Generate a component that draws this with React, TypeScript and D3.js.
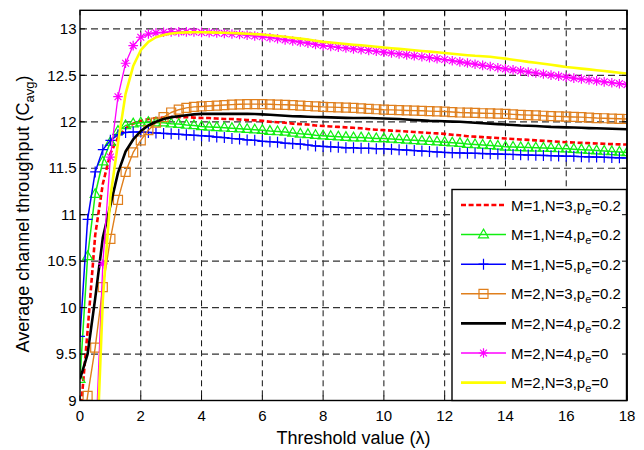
import React from "react";
import * as d3 from "d3";

const lambda = [
  0, 0.25, 0.5, 0.75, 1, 1.25, 1.5, 1.75, 2, 2.25, 2.5, 2.75, 3, 3.25, 3.5, 3.75,
  4, 4.25, 4.5, 4.75, 5, 5.25, 5.5, 5.75, 6, 6.25, 6.5, 6.75, 7, 7.25, 7.5, 7.75,
  8, 8.25, 8.5, 8.75, 9, 9.25, 9.5, 9.75, 10, 10.25, 10.5, 10.75, 11, 11.25, 11.5, 11.75,
  12, 12.25, 12.5, 12.75, 13, 13.25, 13.5, 13.75, 14, 14.25, 14.5, 14.75, 15, 15.25, 15.5, 15.75,
  16, 16.25, 16.5, 16.75, 17, 17.25, 17.5, 17.75, 18,
];

const m1n3 = [
  8.8, 9.75, 10.78, 11.33, 11.66, 11.83, 11.93, 11.98, 12.01, 12.03, 12.04, 12.045, 12.05, 12.05, 12.05, 12.045,
  12.04, 12.04, 12.035, 12.03, 12.03, 12.025, 12.02, 12.015, 12.01, 12.0, 11.995, 11.99, 11.98, 11.975, 11.97, 11.96,
  11.955, 11.95, 11.945, 11.94, 11.935, 11.93, 11.92, 11.915, 11.91, 11.905, 11.9, 11.895, 11.89, 11.885, 11.88, 11.875,
  11.87, 11.86, 11.855, 11.845, 11.84, 11.835, 11.83, 11.825, 11.82, 11.815, 11.81, 11.805, 11.8, 11.795, 11.79, 11.785,
  11.78, 11.777, 11.773, 11.77, 11.766, 11.763, 11.76, 11.757, 11.755,
];

const m1n4 = [
  9.23, 10.55, 11.22, 11.57, 11.78, 11.9, 11.96, 11.98, 11.99, 11.995, 11.99, 11.99, 11.98, 11.975, 11.965, 11.96,
  11.95, 11.945, 11.94, 11.935, 11.93, 11.925, 11.92, 11.915, 11.91, 11.9, 11.895, 11.89, 11.88, 11.87, 11.865, 11.855,
  11.85, 11.845, 11.84, 11.835, 11.83, 11.83, 11.825, 11.82, 11.82, 11.815, 11.81, 11.805, 11.8, 11.795, 11.79, 11.785,
  11.78, 11.775, 11.77, 11.76, 11.755, 11.75, 11.745, 11.74, 11.73, 11.728, 11.725, 11.722, 11.72, 11.718, 11.715, 11.712,
  11.71, 11.705, 11.7, 11.695, 11.69, 11.685, 11.68, 11.675, 11.67,
];

const m1n5 = [
  9.69, 10.95, 11.46, 11.7, 11.8, 11.86, 11.885, 11.89, 11.89, 11.885, 11.88, 11.875, 11.87, 11.865, 11.86, 11.855,
  11.85, 11.845, 11.835, 11.83, 11.82, 11.815, 11.805, 11.8, 11.79, 11.785, 11.78, 11.77, 11.765, 11.76, 11.75, 11.74,
  11.735, 11.73, 11.725, 11.72, 11.72, 11.715, 11.715, 11.71, 11.71, 11.705, 11.7, 11.695, 11.69, 11.685, 11.68, 11.675,
  11.67, 11.668, 11.665, 11.662, 11.66, 11.658, 11.655, 11.652, 11.65, 11.648, 11.645, 11.642, 11.64, 11.638, 11.635, 11.632,
  11.63, 11.628, 11.625, 11.622, 11.62, 11.618, 11.615, 11.612, 11.61,
];

const m2n3 = [
  8.4, 9.05, 9.57, 10.22, 10.74, 11.16, 11.46, 11.67, 11.8, 11.91, 11.99, 12.05, 12.1, 12.13, 12.15, 12.16,
  12.165, 12.17, 12.175, 12.18, 12.185, 12.188, 12.19, 12.19, 12.19, 12.188, 12.185, 12.183, 12.18, 12.175, 12.17, 12.165,
  12.16, 12.158, 12.155, 12.152, 12.15, 12.145, 12.14, 12.135, 12.13, 12.128, 12.125, 12.122, 12.12, 12.118, 12.115, 12.112,
  12.11, 12.105, 12.1, 12.098, 12.095, 12.092, 12.09, 12.088, 12.085, 12.08, 12.075, 12.072, 12.07, 12.065, 12.06, 12.058,
  12.055, 12.052, 12.05, 12.045, 12.04, 12.038, 12.035, 12.032, 12.03,
];

const m2n4 = [
  9.23, 9.5, 10.1, 10.75, 11.1, 11.45, 11.68, 11.81, 11.9, 11.96, 12.0, 12.03, 12.05, 12.06, 12.07, 12.08,
  12.085, 12.085, 12.085, 12.085, 12.085, 12.085, 12.085, 12.083, 12.08, 12.075, 12.07, 12.065, 12.06, 12.058, 12.055, 12.052,
  12.05, 12.048, 12.045, 12.042, 12.04, 12.04, 12.04, 12.038, 12.035, 12.032, 12.03, 12.025, 12.02, 12.015, 12.01, 12.008,
  12.005, 12.002, 12.0, 11.995, 11.99, 11.985, 11.98, 11.975, 11.97, 11.965, 11.96, 11.958, 11.955, 11.95, 11.945, 11.942,
  11.94, 11.938, 11.935, 11.932, 11.93, 11.928, 11.925, 11.922, 11.92,
];

const m2n4p0 = [
  5.5, 7.0, 8.43, 10.47, 11.62, 12.27, 12.63, 12.82, 12.91, 12.945, 12.957, 12.963, 12.967, 12.968, 12.968, 12.967,
  12.962, 12.959, 12.956, 12.951, 12.945, 12.94, 12.932, 12.924, 12.915, 12.905, 12.894, 12.882, 12.87, 12.858, 12.846, 12.833,
  12.82, 12.811, 12.802, 12.794, 12.785, 12.776, 12.768, 12.759, 12.75, 12.74, 12.73, 12.72, 12.71, 12.7, 12.69, 12.68,
  12.67, 12.657, 12.645, 12.632, 12.62, 12.607, 12.595, 12.582, 12.57, 12.559, 12.548, 12.536, 12.525, 12.514, 12.502, 12.491,
  12.48, 12.47, 12.46, 12.45, 12.44, 12.43, 12.42, 12.41, 12.4,
];

const m2n3p0 = [
  5.0, 6.5, 8.0, 10.08, 11.19, 11.77, 12.3, 12.6, 12.77, 12.86, 12.91, 12.935, 12.95, 12.958, 12.962, 12.963,
  12.963, 12.962, 12.96, 12.958, 12.955, 12.952, 12.948, 12.944, 12.94, 12.932, 12.923, 12.915, 12.905, 12.895, 12.885, 12.873,
  12.86, 12.853, 12.845, 12.838, 12.83, 12.823, 12.815, 12.808, 12.8, 12.792, 12.785, 12.778, 12.77, 12.762, 12.755, 12.748,
  12.74, 12.732, 12.725, 12.717, 12.71, 12.705, 12.7, 12.69, 12.68, 12.668, 12.657, 12.645, 12.635, 12.624, 12.613, 12.602,
  12.59, 12.581, 12.572, 12.564, 12.555, 12.546, 12.537, 12.528, 12.52,
];

const xTicks = [0, 2, 4, 6, 8, 10, 12, 14, 16, 18];
const yTicks = [9, 9.5, 10, 10.5, 11, 11.5, 12, 12.5, 13];

const seriesDefs = [
  { M: "1", N: "3", pe: "0.2", values: m1n3, color: "#ff0000", width: 2.6, dash: "5,2.6", marker: "none" },
  { M: "1", N: "4", pe: "0.2", values: m1n4, color: "#10ee10", width: 1.5, dash: "", marker: "triangle" },
  { M: "1", N: "5", pe: "0.2", values: m1n5, color: "#0000ff", width: 1.5, dash: "", marker: "plus" },
  { M: "2", N: "3", pe: "0.2", values: m2n3, color: "#e07f1c", width: 1.4, dash: "", marker: "square" },
  { M: "2", N: "4", pe: "0.2", values: m2n4, color: "#000000", width: 2.6, dash: "", marker: "none" },
  { M: "2", N: "4", pe: "0", values: m2n4p0, color: "#ff00ff", width: 1.3, dash: "", marker: "star" },
  { M: "2", N: "3", pe: "0", values: m2n3p0, color: "#ffff00", width: 2.6, dash: "", marker: "none" },
];

const FONT = "'Liberation Sans', Arial, Helvetica, sans-serif";

function markerPath(type: string): string {
  switch (type) {
    case "triangle":
      return "M0,-5.5L5,3.2L-5,3.2Z";
    case "plus":
      return "M-5,0H5M0,-5.5V5.5";
    case "square":
      return "M-4.5,-4.5H4.5V4.5H-4.5Z";
    case "star":
      return "M-4.8,0H4.8M0,-4.8V4.8M-3.4,-3.4L3.4,3.4M-3.4,3.4L3.4,-3.4";
    default:
      return "";
  }
}

export default function App() {
  const left = 80, right = 627, top = 10.3, bottom = 400.5;
  const x = d3.scaleLinear().domain([0, 18]).range([left, right]);
  const y = d3.scaleLinear().domain([9, 13.2]).range([bottom, top]);

  const line = d3
    .line<number>()
    .x((_, i) => x(lambda[i]))
    .y((d) => y(d));

  const legX = 452, legY = 189.5, legW = 174.5, legH = bottom - 189.5;
  const rowY0 = 205, rowStep = 29.6;

  return (
    <svg
      width={644}
      height={450}
      style={{ position: "absolute", left: 0, top: 0, background: "#fff" }}
      fontFamily={FONT}
    >
      <defs>
        <clipPath id="plotClip">
          <rect x={left} y={top} width={right - left} height={bottom - top} />
        </clipPath>
      </defs>
      <rect x={0} y={0} width={644} height={450} fill="#fff" />

      {/* grid */}
      <g>
        {xTicks
          .filter((t) => t > 0 && t < 18)
          .map((t) => (
            <line key={"gx" + t} x1={x(t)} x2={x(t)} y1={top} y2={bottom} stroke="#111" strokeWidth={1} strokeDasharray="6,4" />
          ))}
        {yTicks
          .filter((t) => t > 9)
          .map((t) => (
            <line key={"gy" + t} x1={left} x2={right} y1={y(t)} y2={y(t)} stroke="#333" strokeWidth={1.2} strokeDasharray="7,4" />
          ))}
      </g>

      {/* series */}
      <g clipPath="url(#plotClip)">
        {seriesDefs.map((s, si) => (
          <g key={"s" + si}>
            <path
              d={line(s.values) || ""}
              fill="none"
              stroke={s.color}
              strokeWidth={s.width}
              strokeDasharray={s.dash || undefined}
              strokeLinejoin="round"
            />
            {s.marker !== "none" &&
              s.values.map((v, i) => (
                <path
                  key={i}
                  transform={`translate(${x(lambda[i])},${y(v)})`}
                  d={markerPath(s.marker)}
                  fill="none"
                  stroke={s.color}
                  strokeWidth={1.2}
                />
              ))}
          </g>
        ))}
      </g>

      {/* axes box and ticks */}
      <rect x={left} y={top} width={right - left} height={bottom - top} fill="none" stroke="#000" strokeWidth={1.4} />
      {xTicks.map((t) => (
        <g key={"tx" + t}>
          <line x1={x(t)} x2={x(t)} y1={bottom} y2={bottom - 5} stroke="#000" />
          <line x1={x(t)} x2={x(t)} y1={top} y2={top + 5} stroke="#000" />
          <text x={x(t)} y={421} textAnchor="middle" fontSize={15} fill="#000">
            {t}
          </text>
        </g>
      ))}
      {yTicks.map((t) => (
        <g key={"ty" + t}>
          <line x1={left} x2={left + 5} y1={y(t)} y2={y(t)} stroke="#000" />
          <line x1={right} x2={right - 5} y1={y(t)} y2={y(t)} stroke="#000" />
          <text x={76.5} y={y(t) + 5.2} textAnchor="end" fontSize={15} fill="#000">
            {t}
          </text>
        </g>
      ))}

      {/* axis labels */}
      <text x={(left + right) / 2} y={444} textAnchor="middle" fontSize={18} fill="#000">
        Threshold value (λ)
      </text>
      <text transform="translate(29,214) rotate(-90)" textAnchor="middle" fontSize={18} fill="#000">
        Average channel throughput (C
        <tspan fontSize={13} dy={5}>avg</tspan>
        <tspan dy={-5}>)</tspan>
      </text>

      {/* legend */}
      <rect x={legX} y={legY} width={legW} height={legH} fill="#fff" stroke="#000" strokeWidth={1.4} />
      {seriesDefs.map((s, i) => {
        const ry = rowY0 + i * rowStep;
        return (
          <g key={"lg" + i}>
            <line
              x1={461}
              x2={506}
              y1={ry}
              y2={ry}
              stroke={s.color}
              strokeWidth={s.width}
              strokeDasharray={s.dash || undefined}
            />
            {s.marker !== "none" && (
              <path transform={`translate(483.5,${ry})`} d={markerPath(s.marker)} fill="none" stroke={s.color} strokeWidth={1.2} />
            )}
            <text x={511} y={ry + 5.5} fontSize={15} fill="#000">
              {`M=${s.M},N=${s.N},p`}
              <tspan fontSize={11} dy={4}>e</tspan>
              <tspan dy={-4}>{`=${s.pe}`}</tspan>
            </text>
          </g>
        );
      })}
      {/* right axis ticks over legend */}
      {yTicks
        .filter((t) => y(t) > legY)
        .map((t) => (
          <line key={"rt" + t} x1={right} x2={right - 5} y1={y(t)} y2={y(t)} stroke="#000" />
        ))}
      <line x1={right} x2={right} y1={top} y2={bottom} stroke="#000" strokeWidth={1.4} />
    </svg>
  );
}
